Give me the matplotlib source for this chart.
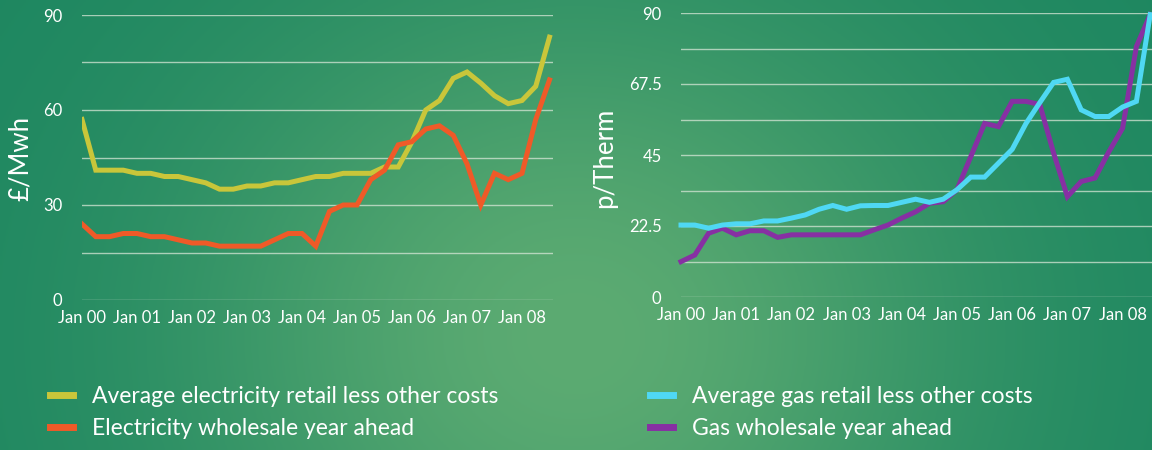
import numpy as np
import matplotlib
matplotlib.use("Agg")
import matplotlib.pyplot as plt
from matplotlib.ticker import MultipleLocator, FixedLocator

plt.rcParams['font.family'] = ['Lato', 'DejaVu Sans']

# ---- data (quarterly, Jan 2000 .. Jul 2008) ----
elec_retail = [57, 41, 41, 41, 40, 40, 39, 39, 38, 37, 35, 35, 36, 36, 37, 37,
               38, 39, 39, 40, 40, 40, 42, 42, 50, 60, 63, 70, 72, 68.5, 64.5, 62,
               63, 67.5, 83]
elec_wholesale = [24, 20, 20, 21, 21, 20, 20, 19, 18, 18, 17, 17, 17, 17, 19, 21,
                  21, 17, 28, 30, 30, 38, 41, 49, 50, 54, 55, 52, 43, 30, 40, 38,
                  40, 57, 69.5]
gas_retail = [22.8, 22.8, 21.8, 22.8, 23.2, 23.2, 24.1, 24.1, 25, 26, 27.8, 29,
              27.8, 28.9, 29, 29, 30, 31, 30, 31, 34, 38, 38, 42.4, 46.8, 55,
              61.6, 68, 69, 59.3, 57.2, 57.2, 60.2, 62, 89.5]
gas_wholesale = [11.2, 13.3, 20.2, 21.8, 19.7, 21, 21, 18.9, 19.7, 19.7, 19.7,
                 19.7, 19.7, 19.7, 21.3, 22.8, 25, 27, 29.7, 30.2, 34, 44.5, 55,
                 54, 62, 62, 61, 45.6, 31.8, 36.6, 37.7, 46, 53.5, 79.4, 89.5]
year_labels = ["Jan 00", "Jan 01", "Jan 02", "Jan 03", "Jan 04", "Jan 05",
               "Jan 06", "Jan 07", "Jan 08"]
elec_labels = ["Average electricity retail less other costs",
               "Electricity wholesale year ahead"]
gas_labels = ["Average gas retail less other costs", "Gas wholesale year ahead"]
elec_ticks = [0, 30, 60, 90]
gas_ticks = [0, 22.5, 45, 67.5, 90]

C_YEL = "#c9c63a"
C_RED = "#ef5a28"
C_CYAN = "#4fd8f4"
C_PURP = "#8730a3"
WHITE = "white"

W, H = 1152, 450
fig = plt.figure(figsize=(W / 100, H / 100), dpi=100)

# ---- background gradient ----
gx = np.linspace(0, 1, 400)
gy = np.linspace(0, 1, 160)
X, Y = np.meshgrid(gx, gy)
w = np.exp(-((X - 0.5) ** 2) / (2 * 0.24 ** 2) - ((Y - 0.75) ** 2) / (2 * 0.55 ** 2))
dark = np.array([0x1c, 0x86, 0x60]) / 255
light = np.array([0x5c, 0xab, 0x72]) / 255
img = dark[None, None, :] * (1 - w[..., None]) + light[None, None, :] * w[..., None]
bg = fig.add_axes([0, 0, 1, 1])
bg.imshow(img, aspect='auto', extent=[0, 1, 0, 1], origin='upper')
bg.set_axis_off()

x = np.arange(len(elec_retail))


def style_axes(ax, yticks, minor_step, ylabel, label_x):
    ax.set_facecolor('none')
    for s in ax.spines.values():
        s.set_visible(False)
    ax.set_ylim(0, 90)
    ax.yaxis.set_major_locator(FixedLocator(yticks))
    ax.yaxis.set_minor_locator(MultipleLocator(minor_step))
    ax.set_yticklabels([("%g" % t) for t in yticks])
    ax.grid(True, which='both', axis='y', color='#d6e6d6', linewidth=1.0, alpha=0.75)
    ax.grid(False, axis='x')
    ax.set_xticks(np.arange(0, 33, 4))
    ax.set_xticklabels(year_labels)
    ax.tick_params(axis='both', which='both', length=0, colors=WHITE, labelsize=12)
    ax.tick_params(axis='y', pad=14)
    ax.tick_params(axis='x', pad=7)
    ax.set_axisbelow(True)
    fig.text(label_x, 1 - 158 / H, ylabel, rotation=90, color=WHITE,
             fontsize=18.5, ha='center', va='center')


# ---- left: electricity ----
axL = fig.add_axes([82 / W, 1 - 300 / H, (553 - 82) / W, (300 - 15) / H])
style_axes(axL, elec_ticks, 15, "£/Mwh", 20 / W)
axL.set_xlim(0, (553 - 82) / 13.75)
l1, = axL.plot(x, elec_retail, color=C_YEL, lw=3.6, solid_joinstyle='miter')
l2, = axL.plot(x, elec_wholesale, color=C_RED, lw=3.6, solid_joinstyle='miter')

# ---- right: gas ----
axR = fig.add_axes([681 / W, 1 - 297 / H, (1152 - 681) / W, (297 - 13) / H])
style_axes(axR, gas_ticks, 11.25, "p/Therm", 605 / W)
axR.set_xlim(0, (1152 - 681) / 13.8)
l3, = axR.plot(x, gas_retail, color=C_CYAN, lw=3.6, solid_joinstyle='miter',
               clip_on=False, zorder=3)
l4, = axR.plot(x, gas_wholesale, color=C_PURP, lw=3.6, solid_joinstyle='miter',
               clip_on=False)

# ---- legends ----
leg_kw = dict(loc='upper left', frameon=False, fontsize=16.5, labelcolor=WHITE,
              handlelength=1.0, handletextpad=0.85, labelspacing=0.5,
              borderaxespad=0, borderpad=0)
legL = fig.legend([l1, l2], elec_labels, bbox_to_anchor=(50 / W, 1 - 386 / H), **leg_kw)
legR = fig.legend([l3, l4], gas_labels, bbox_to_anchor=(650 / W, 1 - 386 / H), **leg_kw)
for leg in (legL, legR):
    for h in leg.legend_handles:
        h.set_linewidth(5)

fig.savefig("out.png", dpi=100)
